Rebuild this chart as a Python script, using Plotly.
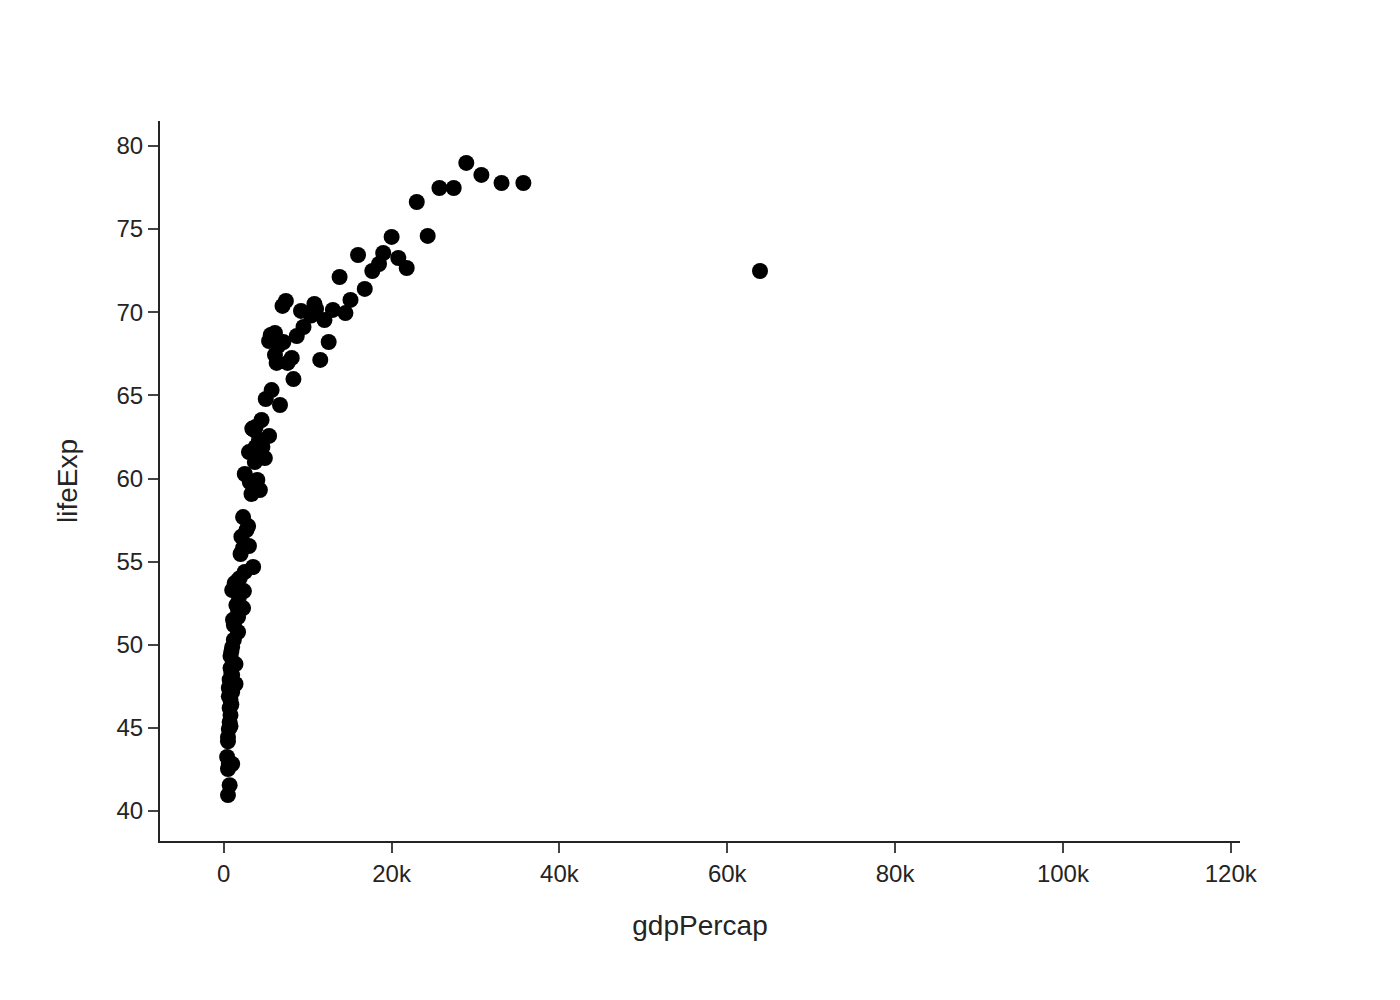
import plotly.graph_objects as go

gdp_k = [28.9, 30.7, 25.7, 27.4, 33.1, 35.7, 23.0, 63.9, 20.0, 24.3,
         19.0, 16.0, 20.8, 18.5, 21.8, 17.7, 13.8, 16.8, 15.1, 10.8,
         14.5, 13.0, 9.2, 10.4, 12.0, 7.4, 7.0, 9.5, 8.7, 12.5,
         6.1, 5.4, 5.6, 7.1, 6.1, 8.1, 7.6, 6.3, 11.5, 8.3,
         5.7, 6.7, 5.0, 4.5, 3.8, 3.6, 5.4, 4.2, 4.6, 3.8,
         3.0, 4.9, 3.7, 2.5, 4.0, 3.1, 4.3, 3.3, 2.3, 2.9,
         2.7, 3.0, 2.3, 2.0, 3.5, 2.5, 1.7, 1.3, 2.4, 1.0,
         1.8, 1.5, 2.3, 1.7, 1.7, 1.2, 1.7, 1.0, 0.8, 1.4,
         0.8, 1.0, 1.4, 0.6, 1.0, 0.8, 0.7, 0.8, 0.7, 0.6,
         0.5, 0.4, 0.6, 1.0, 0.5, 0.7, 0.5,
         0.9, 0.7, 0.6, 0.9, 0.8, 0.5, 1.2, 1.1, 0.9,
         2.1, 1.9, 4.1, 3.4, 6.5, 11.0]
life = [78.98, 78.26, 77.47, 77.47, 77.77, 77.77, 76.63, 72.48, 74.53, 74.59,
        73.56, 73.44, 73.26, 72.90, 72.66, 72.48, 72.12, 71.40, 70.74, 70.50,
        69.95, 70.14, 70.08, 69.80, 69.53, 70.68, 70.38, 69.11, 68.57, 68.21,
        68.75, 68.27, 68.63, 68.21, 67.43, 67.25, 66.95, 66.95, 67.13, 65.98,
        65.32, 64.42, 64.78, 63.52, 63.10, 62.92, 62.56, 62.32, 61.90, 61.90,
        61.59, 61.23, 60.99, 60.27, 59.91, 59.79, 59.31, 59.07, 57.68, 57.14,
        56.90, 55.94, 55.82, 55.46, 54.68, 54.38, 53.89, 53.71, 53.23, 53.29,
        52.87, 52.39, 52.21, 52.09, 51.67, 51.19, 50.77, 49.86, 49.32, 48.84,
        48.60, 48.18, 47.64, 47.40, 47.16, 46.68, 46.20, 45.77, 45.35, 44.93,
        44.45, 43.25, 42.83, 42.83, 42.53, 41.56, 40.96,
        49.60, 47.90, 46.90, 46.40, 45.10, 44.20, 50.30, 51.50, 48.30,
        56.50, 54.00, 61.50, 63.00, 68.00, 70.20]

gdp = [v * 1000 for v in gdp_k]

fig = go.Figure(go.Scatter(
    x=gdp, y=life, mode="markers",
    marker=dict(color="black", size=16),
    showlegend=False,
))

fig.update_layout(
    template="simple_white",
    width=1400, height=1000,
    margin=dict(l=152, r=168, t=113, b=167),
    font=dict(family="Liberation Sans, Arial", size=24, color="rgb(36,36,36)"),
)
fig.update_xaxes(
    title=dict(text="gdpPercap", font=dict(size=28), standoff=30),
    range=[-7600, 121100], tickvals=[0, 20000, 40000, 60000, 80000, 100000, 120000],
    ticktext=["0", "20k", "40k", "60k", "80k", "100k", "120k"],
    ticks="outside", ticklen=10, tickwidth=2, linewidth=2,
    tickfont=dict(size=24),
)
fig.update_yaxes(
    title=dict(text="lifeExp", font=dict(size=28), standoff=31),
    range=[38.2, 81.5], tickvals=[40, 45, 50, 55, 60, 65, 70, 75, 80],
    ticks="outside", ticklen=10, tickwidth=2, linewidth=2,
    tickfont=dict(size=24),
)

fig.write_html("out.html")
